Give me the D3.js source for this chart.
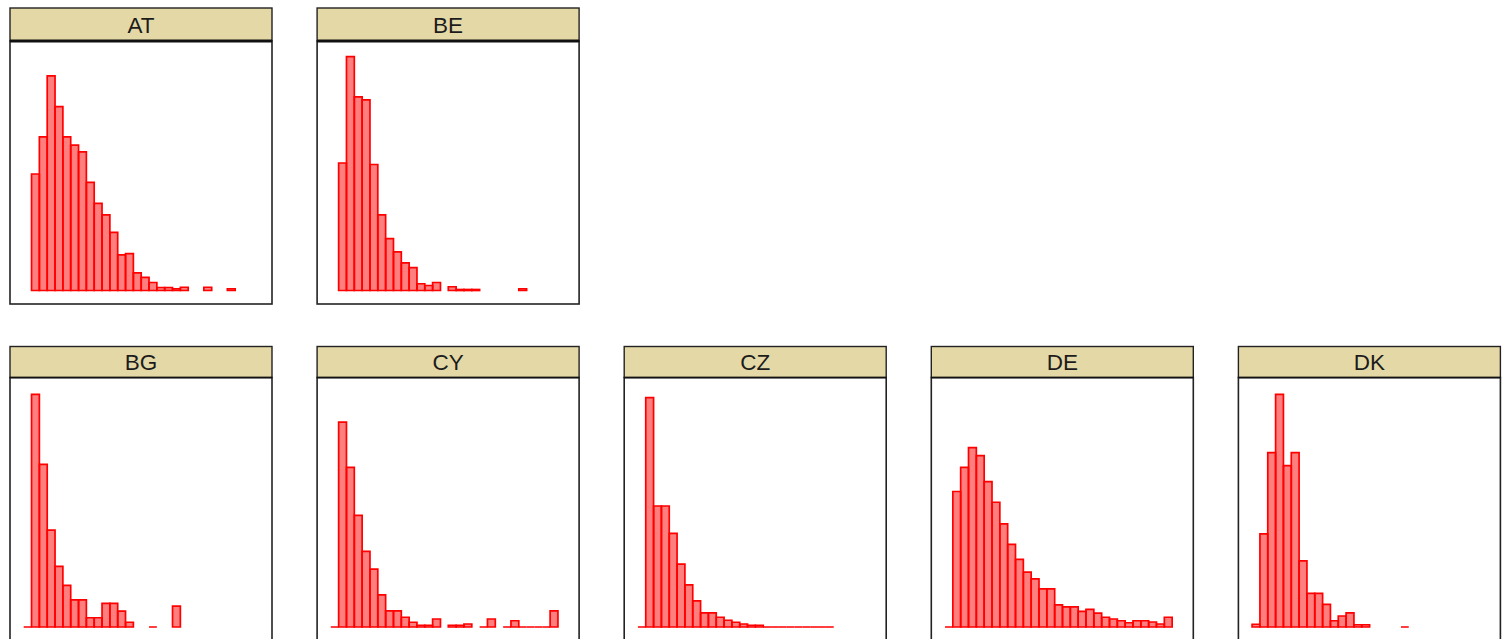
<!DOCTYPE html>
<html>
<head>
<meta charset="utf-8">
<script src="https://cdn.jsdelivr.net/npm/d3@7"></script>
<style>
  html, body { margin: 0; padding: 0; background: #ffffff; }
  svg { display: block; }
</style>
</head>
<body>
<svg id="chart" width="1505" height="639"></svg>
<script>
// ---- data (bar heights per histogram bin; null = no bar drawn) ----
const countries = ["AT", "BE", "BG", "CY", "CZ", "DE", "DK"];
const AT = [null, 46.7, 61.6, 86, 73.7, 61.6, 58.3, 55.6, 43.3, 34.9, 30.3, 23.3, 14.3, 14.8, 7.1, 5.3, 3.2, 1.2, 1.2, 0.7, 1.3, null, null, 1.3, null, null, 0.7];
const BE = [null, 51.1, 93.7, 77.6, 76.4, 50.5, 30.3, 20.8, 15.5, 11.1, 9.2, 2.7, 2.0, 3.2, null, 1.5, 0.4, 0.4, 0.4, null, null, null, null, null, 0.7];
const BG = [0, 93.2, 65.2, 38.8, 24.3, 16.7, 10.9, 10.9, 3.7, 3.7, 9.5, 9.5, 6.4, 1.9, null, null, 0, null, null, 8.4];
const CY = [0, 82.1, 64, 44.7, 30.3, 23.2, 12.9, 6.5, 6.5, 3.9, 1.9, 0.7, 0.7, 3.2, null, 0.7, 0.7, 1.2, null, 0, 3.2, null, 0, 2.5, 0, 0, 0, 0, 6.5];
const CZ = [0, 91.9, 48.5, 48.5, 37.5, 25.2, 16.9, 10.5, 5.7, 5.7, 3.9, 2.7, 1.9, 1.2, 0.7, 0.7, 0, 0, 0, 0, 0, 0, 0, 0, 0];
const DE = [0, 54.3, 64, 71.9, 68.7, 58.3, 50, 41.3, 33.1, 27.1, 22, 19.3, 15.3, 15.3, 8.9, 8.1, 8.1, 6.3, 7.1, 5.6, 3.9, 3.2, 2.5, 1.7, 2.5, 2.5, 2, 1.2, 3.9];
const DK = [1.1, 37.3, 69.9, 93.2, 64.7, 69.9, 26.5, 13.5, 13.5, 9.1, 2.5, 4.4, 5.7, 0.9, 0.9, null, null, null, null, 0];
const seriesByCountry = { AT, BE, BG, CY, CZ, DE, DK };

// ---- layout ----
const panelW = 262;
const colLeft = c => 10 + c * 307.1;
const rows = [
  { stripTop: 8,     stripBottom: 41,    bottomBorder: 3 },
  { stripTop: 346.5, stripBottom: 377.5, bottomBorder: 1.6 }
];
const bodyH = 263;
const plotH = 249.5;
const placement = {
  AT: [0, 0], BE: [0, 1],
  BG: [1, 0], CY: [1, 1], CZ: [1, 2], DE: [1, 3], DK: [1, 4]
};

const svg = d3.select("#chart");

// shared scales
const x = d3.scaleLinear().domain([-1.75, 31.7]).range([0, panelW]);
const y = d3.scaleLinear().domain([0, 100]).range([plotH, 0]);

function barPath(d) {
  const p = d3.path();
  const x0 = x(d.i), x1 = x(d.i + 1), y0 = y(0), y1 = y(d.v);
  p.moveTo(x0, y0);
  p.lineTo(x0, y1);
  p.lineTo(x1, y1);
  p.lineTo(x1, y0);
  p.closePath();
  return p.toString();
}

countries.forEach(code => {
  const [r, c] = placement[code];
  const row = rows[r];
  const left = colLeft(c);
  const g = svg.append("g").attr("transform", `translate(${left},0)`);

  const bodyTop = row.stripBottom;
  g.append("rect")
    .attr("x", 0).attr("y", bodyTop)
    .attr("width", panelW).attr("height", bodyH)
    .attr("fill", "#ffffff");

  // bars
  const vals = seriesByCountry[code];
  const bins = vals.map((v, i) => ({ i, v })).filter(d => d.v !== null);
  const plot = g.append("g").attr("transform", `translate(0,${bodyTop})`);
  plot.selectAll("path.bar")
    .data(bins)
    .join("path")
    .attr("class", "bar")
    .attr("d", barPath)
    .attr("fill", "rgba(255,0,0,0.5)")
    .attr("stroke", "#ff0000")
    .attr("stroke-width", 1.7)
    .attr("stroke-linejoin", "miter");

  // panel border
  g.append("rect")
    .attr("x", 0).attr("y", bodyTop)
    .attr("width", panelW).attr("height", bodyH)
    .attr("fill", "none")
    .attr("stroke", "#222222")
    .attr("stroke-width", 1.6);

  // strip
  g.append("rect")
    .attr("x", 0).attr("y", row.stripTop)
    .attr("width", panelW).attr("height", row.stripBottom - row.stripTop)
    .attr("fill", "#e4d9a6")
    .attr("stroke", "#222222")
    .attr("stroke-width", 1.4);
  g.append("line")
    .attr("x1", 0).attr("x2", panelW)
    .attr("y1", row.stripBottom).attr("y2", row.stripBottom)
    .attr("stroke", "#111111")
    .attr("stroke-width", row.bottomBorder);

  g.append("text")
    .attr("x", panelW / 2)
    .attr("y", (row.stripTop + row.stripBottom) / 2 + 8)
    .attr("text-anchor", "middle")
    .attr("font-family", "'Liberation Sans', Arial, sans-serif")
    .attr("font-size", 22.5)
    .attr("fill", "#1c1c1c")
    .text(code);
});
</script>
</body>
</html>
